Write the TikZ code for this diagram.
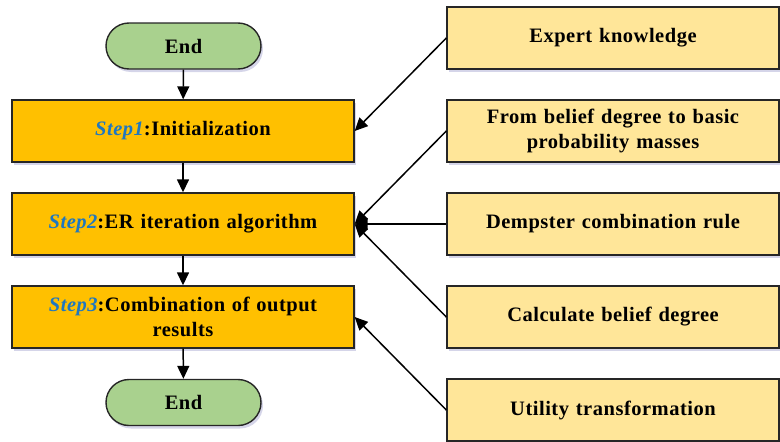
\documentclass[tikz,border=0pt]{standalone}
\usepackage{fontspec}
\setmainfont{Liberation Serif}
\newfontfamily\boxfont[LetterSpace=2.5]{Liberation Serif}
\usetikzlibrary{arrows.meta,shapes.misc,shadows,positioning}
\definecolor{orangebox}{HTML}{FFC000}
\definecolor{yellowbox}{HTML}{FFE699}
\definecolor{greenbox}{HTML}{A9D18E}
\definecolor{stepblue}{HTML}{1F77C0}
\begin{document}
\begin{tikzpicture}[x=1pt,y=-1pt,
  base/.style={draw=black!85,line width=1.4pt,font=\boxfont\bfseries\fontsize{20.5}{25}\selectfont,align=center,inner sep=0pt,
    drop shadow={shadow xshift=2pt,shadow yshift=-3pt,fill=blue!30!gray,opacity=0.25}},
  stepbox/.style={base,fill=orangebox,minimum width=342pt,minimum height=62pt,text width=330pt},
  inbox/.style={base,fill=yellowbox,minimum width=332pt,minimum height=62pt,text width=320pt},
  term/.style={base,fill=greenbox,rounded rectangle,minimum width=155pt,minimum height=46pt},
  arr/.style={-{Triangle[length=13pt,width=12pt]},line width=1.5pt,black}]
\useasboundingbox (0,0) rectangle (780,442);
\node[term] (start) at (183.5,46) {End};
\node[stepbox] (s1) at (183,131) {\textcolor{stepblue}{\itshape Step1}:Initialization};
\node[stepbox] (s2) at (183,224) {\textcolor{stepblue}{\itshape Step2}:ER iteration algorithm};
\node[stepbox] (s3) at (183,317) {\textcolor{stepblue}{\itshape Step3}:Combination of output\\results};
\node[term] (stop) at (183.5,402.5) {End};
\node[inbox] (e1) at (613,38) {Expert knowledge};
\node[inbox] (e2) at (613,131) {From belief degree to basic\\probability masses};
\node[inbox] (e3) at (613,224) {Dempster combination rule};
\node[inbox] (e4) at (613,317) {Calculate belief degree};
\node[inbox] (e5) at (613,410) {Utility transformation};
\draw[arr] (start) -- (s1);
\draw[arr] (s1) -- (s2);
\draw[arr] (s2) -- (s3);
\draw[arr] (s3) -- (stop);
\draw[arr] (e1.west) -- (s1.east);
\draw[arr] (e2.west) -- (s2.east);
\draw[arr] (e3.west) -- (s2.east);
\draw[arr] (e4.west) -- (s2.east);
\draw[arr] (e5.west) -- (s3.east);
\end{tikzpicture}
\end{document}
